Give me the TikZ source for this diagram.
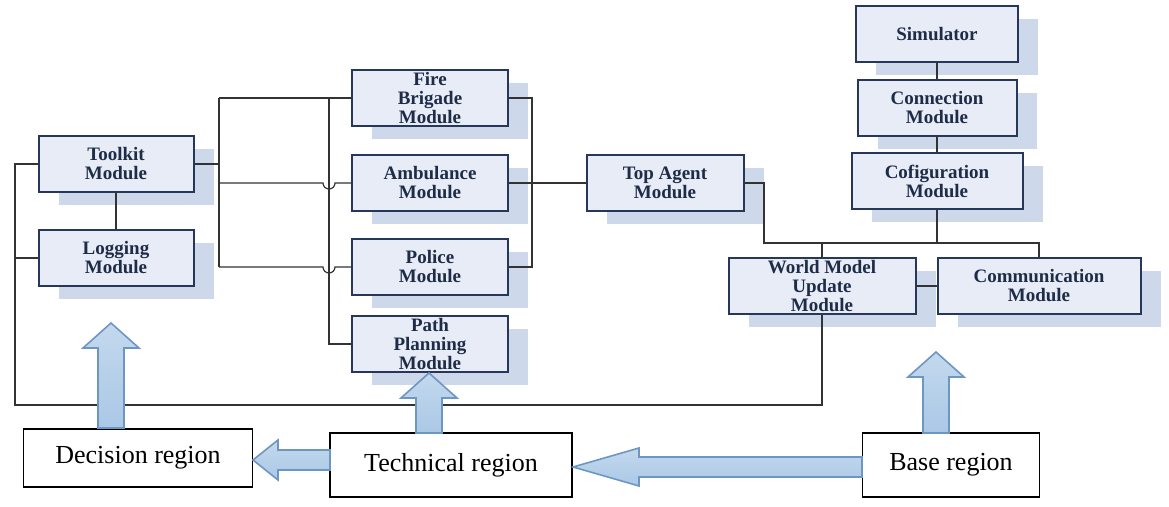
\documentclass[tikz,border=0pt]{standalone}
\usepackage{fontspec}
\setmainfont{Liberation Serif}
\usetikzlibrary{shadows}
\definecolor{boxFill}{RGB}{231,236,246}
\definecolor{boxDraw}{RGB}{38,55,90}
\definecolor{shadowFill}{RGB}{205,216,234}
\definecolor{arrowFill}{RGB}{170,200,230}
\definecolor{arrowDraw}{RGB}{110,150,195}
\tikzset{
  module/.style={draw=boxDraw,line width=1pt,fill=boxFill,align=center,
    font=\bfseries\fontsize{9.5}{9.5}\selectfont,text=boxDraw!80!black,
    minimum height=28pt,inner sep=1pt,
    drop shadow={shadow xshift=10pt,shadow yshift=-6.5pt,fill=shadowFill,opacity=1}},
  region/.style={draw,line width=0.8pt,fill=white,font=\fontsize{13}{13}\selectfont,
    minimum height=29pt,inner sep=2pt},
  wire/.style={draw=black!80,line width=0.6pt},
  fat/.style={draw=arrowDraw,line width=0.8pt,top color=arrowFill!70!white,bottom color=arrowFill}
}
% block arrows: x, y of base, y of tip (upward)
\newcommand{\uparr}[3]{\path[fat] (#1-13,#2) -- (#1-13,#3+25) -- (#1-28,#3+25) -- (#1,#3) -- (#1+28,#3+25) -- (#1+13,#3+25) -- (#1+13,#2) -- cycle;}
% y, x of base, x of tip, shaft half, head half, head length (leftward)
\newcommand{\leftarr}[6]{\path[fat] (#2,#1-#4) -- (#3+#6,#1-#4) -- (#3+#6,#1-#5) -- (#3,#1) -- (#3+#6,#1+#5) -- (#3+#6,#1+#4) -- (#2,#1+#4) -- cycle;}
\begin{document}
\begin{tikzpicture}[x=0.5pt,y=-0.5pt]
\path[use as bounding box] (0,0) rectangle (1169,507);

\node[module,minimum width=77.5pt] (toolkit) at (116,164) {Toolkit\\Module};
\node[module,minimum width=77.5pt] (logging) at (116,258) {Logging\\Module};
\node[module,minimum width=78pt] (fire) at (430,98) {Fire\\Brigade\\Module};
\node[module,minimum width=78pt] (ambulance) at (430,183) {Ambulance\\Module};
\node[module,minimum width=78pt] (police) at (430,267) {Police\\Module};
\node[module,minimum width=78pt] (path) at (430,344) {Path\\Planning\\Module};
\node[module,minimum width=78.5pt] (topagent) at (665,183) {Top Agent\\Module};
\node[module,minimum width=81pt] (simulator) at (937,34) {Simulator};
\node[module,minimum width=79.5pt] (connection) at (937,108) {Connection\\Module};
\node[module,minimum width=85.5pt] (config) at (937,181) {Cofiguration\\Module};
\node[module,minimum width=93.5pt] (world) at (822,286) {World Model\\Update\\Module};
\node[module,minimum width=101.5pt] (comm) at (1039,286) {Communication\\Module};

\node[region,minimum width=114.5pt] (decision) at (138,458) {Decision region};
\node[region,minimum width=121pt,minimum height=32pt] (technical) at (451,465) {Technical region};
\node[region,minimum width=88.5pt,minimum height=32pt] (base) at (951,465) {Base region};

% wires
\draw[wire] (toolkit) -- (logging);
\draw[wire] (toolkit.west) -- (15,164) -- (15,405) -- (822,405) -- (world.south);
\draw[wire] (logging.west) -- (15,258);
\draw[wire] (toolkit.east) -- (219,164);
\draw[wire] (219,98) -- (219,267);
\draw[wire] (219,98) -- (fire.west);
\draw[wire] (219,183) -- (323,183) arc[start angle=180,end angle=0,radius=6] -- (ambulance.west);
\draw[wire] (219,267) -- (323,267) arc[start angle=180,end angle=0,radius=6] -- (police.west);
\draw[wire] (329,98) -- (329,344) -- (path.west);
\draw[wire] (fire.east) -- (532,98) -- (532,267) -- (police.east);
\draw[wire] (ambulance.east) -- (topagent.west);
\draw[wire] (topagent.east) -- (764,183) -- (764,243) -- (1039,243) -- (comm.north);
\draw[wire] (world.north) -- (822,243);
\draw[wire] (config.south) -- (937,243);
\draw[wire] (simulator) -- (connection);
\draw[wire] (connection) -- (config);
\draw[wire] (world) -- (comm);

% region arrows
\uparr{111}{428}{323}
\uparr{429}{433}{373}
\uparr{936}{433}{352}
\leftarr{460}{330}{253}{10}{20}{25}
\leftarr{467}{862}{573}{10}{19}{66}
\end{tikzpicture}
\end{document}
